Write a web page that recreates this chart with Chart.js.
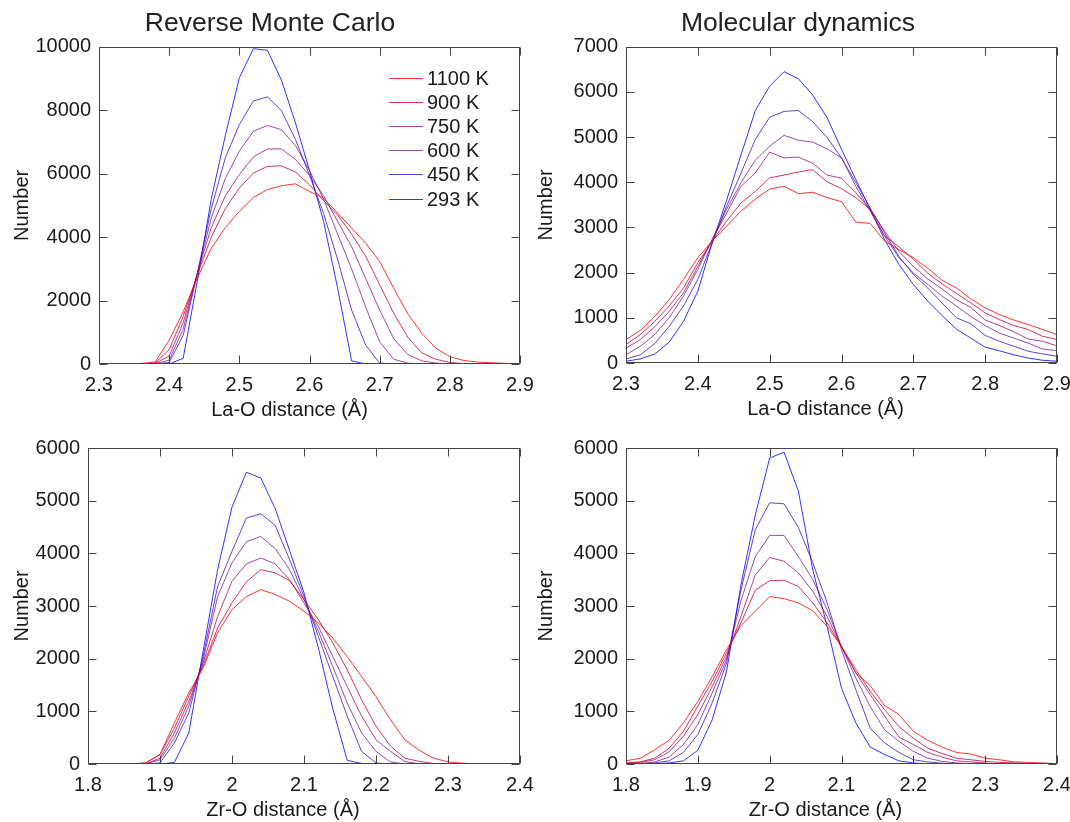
<!DOCTYPE html>
<html>
<head>
<meta charset="utf-8">
<title>La-O and Zr-O distance distributions</title>
<script src="https://cdn.jsdelivr.net/npm/chart.js@4.4.1/dist/chart.umd.min.js"></script>
<style>
    body { margin: 0; background: #fff; }
    #fig { position: relative; width: 1070px; height: 822px; overflow: hidden; }
    #fig canvas { position: absolute; }
</style>
</head>
<body>
<div id="fig">
    <canvas id="rmcLa" width="540" height="420" style="left:0;top:0"></canvas>
    <canvas id="mdLa" width="546" height="420" style="left:524px;top:0"></canvas>
    <canvas id="rmcZr" width="540" height="402" style="left:0;top:420px"></canvas>
    <canvas id="mdZr" width="546" height="402" style="left:524px;top:420px"></canvas>
</div>
<script>
// temperatures, hottest first (legend order)
const temps = ['1100 K', '900 K', '750 K', '600 K', '450 K', '293 K'];

// distance bins (Å)
const laDist = [2.30, 2.32, 2.34, 2.36, 2.38, 2.40, 2.42, 2.44, 2.46, 2.48, 2.50, 2.52, 2.54, 2.56, 2.58, 2.60,
                2.62, 2.64, 2.66, 2.68, 2.70, 2.72, 2.74, 2.76, 2.78, 2.80, 2.82, 2.84, 2.86, 2.88, 2.90];
const zrDist = [1.80, 1.82, 1.84, 1.86, 1.88, 1.90, 1.92, 1.94, 1.96, 1.98, 2.00, 2.02, 2.04, 2.06, 2.08, 2.10,
                2.12, 2.14, 2.16, 2.18, 2.20, 2.22, 2.24, 2.26, 2.28, 2.30, 2.32, 2.34, 2.36, 2.38, 2.40];

// tick labels
const laTicks = [2.3, 2.4, 2.5, 2.6, 2.7, 2.8, 2.9];
const zrTicks = [1.8, 1.9, 2.0, 2.1, 2.2, 2.3, 2.4];
const rmcLaYTicks = [0, 2000, 4000, 6000, 8000, 10000];
const mdLaYTicks = [0, 1000, 2000, 3000, 4000, 5000, 6000, 7000];
const zrYTicks = [0, 1000, 2000, 3000, 4000, 5000, 6000];

// Reverse Monte Carlo, La-O
const rmcLa1100 = [0, 0, 0, 20, 60, 750, 1650, 2700, 3650, 4300, 4810, 5250, 5500, 5620, 5680, 5440, 5230, 4760, 4290, 3810, 3230, 2390, 1580, 970, 500, 230, 110, 60, 40, 20, 0];
const rmcLa900 = [0, 0, 0, 10, 30, 450, 1500, 2800, 4000, 4900, 5550, 6020, 6230, 6250, 6050, 5650, 5150, 4700, 4100, 3400, 2500, 1600, 850, 350, 150, 50, 10, 0, 0, 0, 0];
const rmcLa750 = [0, 0, 0, 0, 20, 250, 1300, 2850, 4300, 5300, 5970, 6530, 6780, 6780, 6450, 5950, 5300, 4500, 3700, 2700, 1700, 800, 300, 100, 30, 0, 0, 0, 0, 0, 0];
const rmcLa600 = [0, 0, 0, 0, 10, 120, 1100, 2850, 4600, 5850, 6710, 7340, 7520, 7390, 6890, 6100, 5200, 4100, 3000, 1800, 700, 150, 30, 0, 0, 0, 0, 0, 0, 0, 0];
const rmcLa450 = [0, 0, 0, 0, 0, 50, 900, 2850, 4900, 6500, 7550, 8290, 8420, 7990, 7080, 5950, 4750, 3300, 1700, 600, 30, 0, 0, 0, 0, 0, 0, 0, 0, 0, 0];
const rmcLa293 = [0, 0, 0, 0, 0, 0, 180, 2600, 5200, 7200, 9020, 9940, 9890, 8950, 7600, 6100, 4500, 2400, 100, 0, 0, 0, 0, 0, 0, 0, 0, 0, 0, 0, 0];

// Molecular dynamics, La-O
const mdLa1100 = [520, 720, 1030, 1400, 1850, 2330, 2700, 3030, 3360, 3630, 3850, 3910, 3750, 3780, 3660, 3570, 3120, 3090, 2700, 2510, 2330, 2100, 1830, 1660, 1420, 1220, 1070, 950, 850, 740, 630];
const mdLa900 = [410, 630, 920, 1260, 1660, 2220, 2700, 3140, 3540, 3800, 4100, 4160, 4230, 4280, 4010, 3860, 3660, 3400, 2810, 2570, 2300, 1990, 1750, 1540, 1330, 1110, 960, 830, 740, 590, 520];
const mdLa750 = [330, 520, 800, 1140, 1550, 2140, 2730, 3320, 3910, 4210, 4670, 4540, 4560, 4420, 4160, 4090, 3770, 3400, 2920, 2470, 2140, 1860, 1640, 1400, 1230, 950, 830, 690, 530, 480, 380];
const mdLa600 = [180, 370, 630, 1000, 1480, 2070, 2730, 3400, 3990, 4490, 4800, 5040, 4930, 4890, 4740, 4540, 3910, 3360, 2810, 2330, 1990, 1740, 1480, 1260, 1030, 830, 660, 550, 440, 310, 270];
const mdLa450 = [90, 180, 430, 810, 1260, 1850, 2660, 3470, 4200, 4950, 5440, 5570, 5590, 5340, 4990, 4540, 3990, 3430, 2880, 2360, 1960, 1660, 1330, 1000, 870, 610, 480, 370, 260, 200, 150];
const mdLa293 = [40, 90, 200, 460, 920, 1590, 2660, 3600, 4600, 5590, 6130, 6450, 6290, 5930, 5430, 4730, 4060, 3400, 2730, 2180, 1740, 1370, 1050, 750, 550, 350, 270, 180, 110, 60, 40];

// Reverse Monte Carlo, Zr-O
const rmcZr1100 = [0, 0, 0, 0, 20, 180, 780, 1350, 1830, 2490, 2930, 3180, 3310, 3220, 3090, 2900, 2680, 2390, 2040, 1660, 1280, 840, 460, 260, 110, 40, 15, 5, 0, 0, 0];
const rmcZr900 = [0, 0, 0, 0, 20, 180, 680, 1290, 1870, 2580, 3060, 3460, 3690, 3630, 3480, 3120, 2740, 2300, 1790, 1220, 720, 340, 110, 50, 10, 0, 0, 0, 0, 0, 0];
const rmcZr750 = [0, 0, 0, 0, 0, 110, 590, 1190, 1920, 2800, 3470, 3800, 3910, 3800, 3500, 3060, 2610, 2040, 1470, 910, 460, 240, 50, 0, 0, 0, 0, 0, 0, 0, 0];
const rmcZr600 = [0, 0, 0, 0, 0, 80, 490, 1100, 1980, 3180, 3820, 4220, 4320, 4090, 3690, 3120, 2520, 1850, 1160, 590, 240, 40, 0, 0, 0, 0, 0, 0, 0, 0, 0];
const rmcZr450 = [0, 0, 0, 0, 0, 20, 400, 970, 2050, 3370, 4040, 4670, 4750, 4530, 3880, 3180, 2420, 1660, 910, 240, 20, 0, 0, 0, 0, 0, 0, 0, 0, 0, 0];
const rmcZr293 = [0, 0, 0, 0, 0, 0, 30, 590, 2150, 3690, 4880, 5540, 5430, 4850, 4050, 3250, 2200, 1050, 70, 10, 0, 0, 0, 0, 0, 0, 0, 0, 0, 0, 0];

// Molecular dynamics, Zr-O
const mdZr1100 = [60, 110, 270, 450, 780, 1190, 1660, 2170, 2630, 2900, 3180, 3140, 3060, 2910, 2610, 2230, 1730, 1490, 1110, 940, 620, 450, 320, 220, 190, 110, 80, 40, 30, 20, 5];
const mdZr900 = [20, 40, 110, 300, 620, 1100, 1570, 2110, 2680, 3300, 3480, 3490, 3370, 3060, 2680, 2230, 1790, 1380, 1030, 710, 490, 300, 200, 110, 80, 50, 30, 20, 10, 0, 0];
const mdZr750 = [10, 30, 80, 230, 530, 940, 1470, 2040, 2800, 3590, 3920, 3850, 3630, 3280, 2800, 2230, 1730, 1320, 910, 510, 370, 220, 130, 60, 40, 20, 0, 0, 0, 0, 0];
const mdZr600 = [0, 10, 40, 130, 370, 750, 1350, 1980, 3100, 3940, 4340, 4340, 3940, 3500, 2930, 2230, 1630, 1090, 650, 430, 240, 110, 50, 20, 0, 0, 0, 0, 0, 0, 0];
const mdZr450 = [0, 0, 20, 60, 220, 560, 1160, 1920, 3300, 4450, 4960, 4940, 4490, 3820, 3060, 2170, 1410, 680, 400, 220, 80, 40, 15, 0, 0, 0, 0, 0, 0, 0, 0];
const mdZr293 = [0, 0, 5, 20, 60, 260, 840, 1760, 3400, 4730, 5810, 5920, 5180, 3690, 2610, 1440, 780, 320, 180, 60, 20, 0, 0, 0, 0, 0, 0, 0, 0, 0, 0];

// red (hot) -> blue (cold), thin lines look a little washed out in the original
const lineColors = ['rgba(255,0,0,0.8)', 'rgba(204,0,51,0.8)', 'rgba(153,0,102,0.75)',
                    'rgba(102,0,153,0.7)', 'rgba(51,0,204,0.75)', 'rgba(0,0,255,0.8)'];

const FONT = '"Liberation Sans", Arial, Helvetica, sans-serif';
const TEXT = '#1a1a1a';
const AXIS = '#444';

// box round the plot, inward ticks on all four sides, axis titles
const framePlugin = {
    id: 'frame',
    afterDatasetsDraw(chart, args, o) {
        const { ctx, chartArea: a, scales } = chart;
        const L = Math.round(a.left) + 0.5, R = Math.round(a.right) - 0.5;
        const T = Math.round(a.top) + 0.5, B = Math.round(a.bottom) - 0.5;
        const len = 8;
        ctx.save();
        ctx.strokeStyle = AXIS;
        ctx.lineWidth = 1;
        ctx.strokeRect(L, T, R - L, B - T);
        ctx.beginPath();
        scales.x.ticks.forEach(t => {
            const x = Math.round(scales.x.getPixelForValue(t.value)) + 0.5;
            ctx.moveTo(x, B); ctx.lineTo(x, B - len);
            ctx.moveTo(x, T); ctx.lineTo(x, T + len);
        });
        scales.y.ticks.forEach(t => {
            const y = Math.round(scales.y.getPixelForValue(t.value)) + 0.5;
            ctx.moveTo(L, y); ctx.lineTo(L + len, y);
            ctx.moveTo(R, y); ctx.lineTo(R - len, y);
        });
        ctx.stroke();

        ctx.fillStyle = TEXT;
        ctx.font = '20px ' + FONT;
        ctx.textAlign = 'center';
        ctx.textBaseline = 'middle';
        ctx.fillText(o.xLabel, (a.left + a.right) / 2 + o.xShift, a.bottom + 46);
        ctx.translate(a.left + o.yShift, (a.top + a.bottom) / 2);
        ctx.rotate(-Math.PI / 2);
        ctx.fillText(o.yLabel, 0, 0);
        ctx.restore();
    }
};

// legend drawn inside the plot (only used on the first panel)
const insideLegend = {
    id: 'insideLegend',
    afterDraw(chart, args, o) {
        if (!o.show) return;
        const { ctx } = chart;
        ctx.save();
        ctx.font = '20px ' + FONT;
        ctx.textAlign = 'left';
        ctx.textBaseline = 'middle';
        chart.data.datasets.forEach((ds, i) => {
            const y = Math.round(o.top + i * o.step) + 0.5;
            ctx.strokeStyle = lineColors[i];
            ctx.lineWidth = 1;
            ctx.beginPath();
            ctx.moveTo(o.left, y);
            ctx.lineTo(o.left + 34, y);
            ctx.stroke();
            ctx.fillStyle = TEXT;
            ctx.fillText(ds.label, o.left + 38, y + 1);
        });
        ctx.restore();
    }
};

function makePanel(id, p) {
    const datasets = p.series.map((ys, i) => ({
        label: temps[i],
        data: ys.map((y, j) => ({ x: p.dist[j], y: y })),
        borderColor: lineColors[i],
        borderWidth: 1,
        pointRadius: 0,
        tension: 0,
        fill: false
    }));

    new Chart(document.getElementById(id), {
        type: 'line',
        data: { datasets },
        plugins: [framePlugin, insideLegend],
        options: {
            responsive: false,
            animation: false,
            events: [],
            layout: { padding: { top: p.padTop, right: p.padRight, bottom: 0, left: p.padLeft } },
            scales: {
                x: {
                    type: 'linear',
                    min: p.xTicks[0],
                    max: p.xTicks[p.xTicks.length - 1],
                    afterBuildTicks: s => { s.ticks = p.xTicks.map(v => ({ value: v })); },
                    afterFit: s => { s.height = p.xAxisH; s.paddingLeft = 0; s.paddingRight = 0; },
                    grid: { display: false, drawTicks: false },
                    border: { display: false },
                    ticks: {
                        autoSkip: false,
                        maxRotation: 0,
                        padding: 9,
                        color: TEXT,
                        font: { family: FONT, size: 20 },
                        callback: v => String(Number(v.toFixed(1)))
                    }
                },
                y: {
                    min: p.yTicks[0],
                    max: p.yTicks[p.yTicks.length - 1],
                    afterBuildTicks: s => { s.ticks = p.yTicks.map(v => ({ value: v })); },
                    afterFit: s => { s.width = p.yAxisW; s.paddingTop = 0; s.paddingBottom = 0; },
                    grid: { display: false, drawTicks: false },
                    border: { display: false },
                    ticks: {
                        padding: 8,
                        color: TEXT,
                        font: { family: FONT, size: 20 },
                        callback: v => String(v)
                    }
                }
            },
            plugins: {
                legend: { display: false },
                tooltip: { enabled: false },
                title: {
                    display: !!p.title,
                    text: p.title || '',
                    color: '#222',
                    font: { family: FONT, size: 26.5, weight: 'normal' },
                    padding: { top: 8, bottom: 7 }
                },
                frame: { xLabel: p.xLabel, yLabel: 'Number', xShift: p.xShift, yShift: p.yShift },
                insideLegend: { show: !!p.legend, left: 389, top: 78, step: 24.1 }
            }
        }
    });
}

makePanel('rmcLa', {
    title: 'Reverse Monte Carlo', legend: true,
    dist: laDist, xTicks: laTicks, yTicks: rmcLaYTicks,
    series: [rmcLa1100, rmcLa900, rmcLa750, rmcLa600, rmcLa450, rmcLa293],
    xLabel: 'La-O distance (Å)',
    padTop: 0, padLeft: 20, padRight: 20, yAxisW: 79, xAxisH: 56, xShift: -20, yShift: -77
});
makePanel('mdLa', {
    title: 'Molecular dynamics',
    dist: laDist, xTicks: laTicks, yTicks: mdLaYTicks,
    series: [mdLa1100, mdLa900, mdLa750, mdLa600, mdLa450, mdLa293],
    xLabel: 'La-O distance (Å)',
    padTop: 0, padLeft: 15, padRight: 13, yAxisW: 87, xAxisH: 57, xShift: -16, yShift: -80
});
makePanel('rmcZr', {
    dist: zrDist, xTicks: zrTicks, yTicks: zrYTicks,
    series: [rmcZr1100, rmcZr900, rmcZr750, rmcZr600, rmcZr450, rmcZr293],
    xLabel: 'Zr-O distance (Å)',
    padTop: 28, padLeft: 0, padRight: 20, yAxisW: 88, xAxisH: 58, xShift: -21, yShift: -66
});
makePanel('mdZr', {
    dist: zrDist, xTicks: zrTicks, yTicks: zrYTicks,
    series: [mdZr1100, mdZr900, mdZr750, mdZr600, mdZr450, mdZr293],
    xLabel: 'Zr-O distance (Å)',
    padTop: 28, padLeft: 0, padRight: 13, yAxisW: 102, xAxisH: 58, xShift: -16, yShift: -80
});
</script>
</body>
</html>
